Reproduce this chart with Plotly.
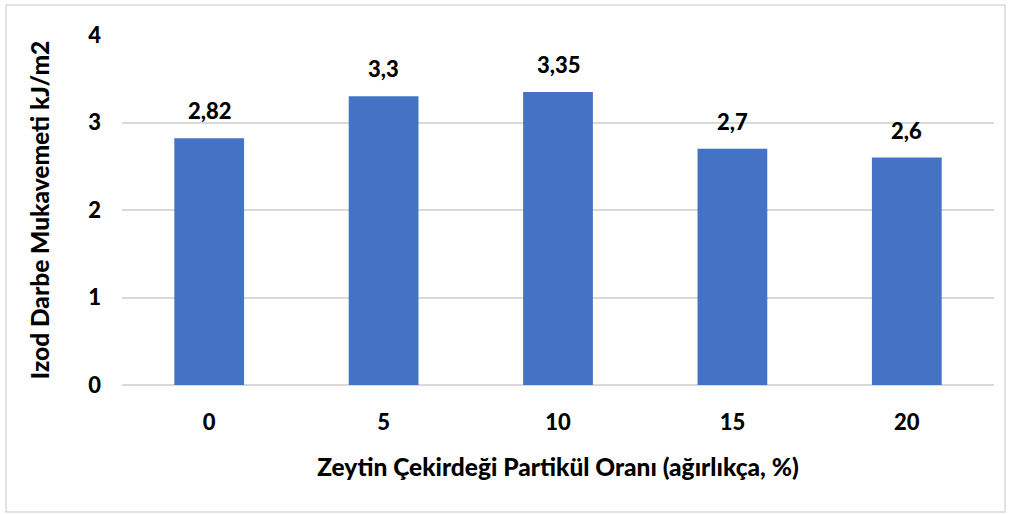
import plotly.graph_objects as go

# Zeytin çekirdeği partikül oranı (ağırlıkça %) ve Izod darbe mukavemeti (kJ/m2)
categories = ["0", "5", "10", "15", "20"]
values = [2.82, 3.3, 3.35, 2.7, 2.6]
y_ticks = [0, 1, 2, 3, 4]

FONT = "Lato"
BAR_COLOR = "#4472C4"
GRID_COLOR = "#D9D9D9"
TXT = dict(family=FONT, size=22, color="black", weight=900)
TITLE = dict(family=FONT, size=24.5, color="black", weight=900)

fig = go.Figure()
fig.add_trace(go.Bar(
    x=categories,
    y=values,
    marker=dict(color=BAR_COLOR, line=dict(width=0)),
    width=0.4,
    hoverinfo="x+y",
))

# value labels above each bar (category index positions)
for i, v in enumerate(values):
    fig.add_annotation(
        x=i, y=v, text=f"{v:g}".replace(".", ","),
        showarrow=False, yanchor="bottom", yshift=12,
        font=TXT,
    )

# outer frame around the chart
fig.add_shape(
    type="rect", xref="paper", yref="paper",
    x0=-0.133, x1=1.0126, y0=-0.363, y1=1.0857,
    line=dict(color="#D9D9D9", width=1.5), fillcolor="rgba(0,0,0,0)",
    layer="below",
)

fig.update_layout(
    width=1011, height=514,
    margin=dict(l=122, r=17, t=35, b=129),
    paper_bgcolor="white", plot_bgcolor="white",
    showlegend=False,
    separators=",.",
    font=dict(family=FONT, color="black"),
    xaxis=dict(
        type="category",
        range=[-0.5, 4.5],
        showgrid=False,
        showline=False,
        zeroline=False,
        ticks="",
        ticklabelstandoff=22,
        tickfont=TXT,
        title=dict(
            text="Zeytin Çekirdeği Partikül Oranı (ağırlıkça, %)",
            font=TITLE,
            standoff=24,
        ),
    ),
    yaxis=dict(
        range=[0, 4],
        tickvals=y_ticks,
        showgrid=True,
        gridcolor=GRID_COLOR,
        gridwidth=1.5,
        zeroline=True,
        zerolinecolor=GRID_COLOR,
        zerolinewidth=2,
        showline=False,
        ticks="",
        ticklabelstandoff=20,
        tickfont=TXT,
        title=dict(
            text="Izod Darbe Mukavemeti kJ/m2",
            font=TITLE,
            standoff=31,
        ),
    ),
)

fig.write_html("out.html")
